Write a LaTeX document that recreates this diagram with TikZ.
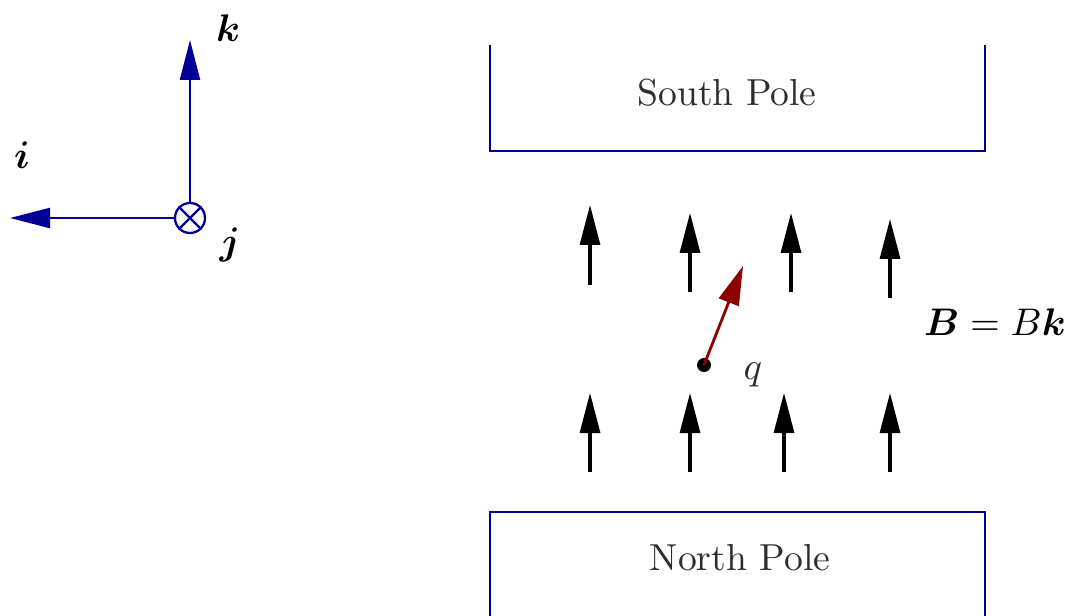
\documentclass[tikz,border=0pt]{standalone}
\usepackage{xcolor}
\usepackage{amsmath}
\usepackage{tikz}
\usetikzlibrary{arrows.meta, positioning}
\definecolor{myblue}{RGB}{0,0,153}
\definecolor{myred}{RGB}{140,0,0}
\definecolor{mydark}{RGB}{45,45,45}
\tikzset{
  axis/.style={-{Triangle[length=4mm,width=2mm]}, line width=0.65pt, color=myblue},
  field/.style={-{Triangle[length=4mm,width=2mm]}, line width=0.9pt, color=black},
  velo/.style={-{Triangle[length=3.9mm,width=2.1mm]}, line width=0.8pt, color=myred},
  pole/.style={line width=0.65pt, color=myblue},
  lbl/.style={text=mydark}
}
\begin{document}
\begin{tikzpicture}[
  font=\fontsize{10.7pt}{13pt}\selectfont,
  otimes/.style={circle, draw=myblue, line width=0.65pt, minimum size=0.3cm, inner sep=0pt},
  charge/.style={circle, fill=black, minimum size=0.14cm, inner sep=0pt}
]
\useasboundingbox (0,0) rectangle (10.72,6.15);
%--- axes (left) ---
\node[otimes] (O) at (1.90,3.97) {};
\draw[myblue, line width=0.65pt] (O.45) -- (O.225) (O.135) -- (O.315);
\coordinate (ktip) at (1.90,5.75);
\coordinate (itip) at (0.10,3.97);
\draw[axis] (O) -- (ktip);
\draw[axis] (O) -- (itip);
\node (klbl) at (2.28,5.87) {$\boldsymbol{k}$};
\node (ilbl) at (0.22,4.60) {$\boldsymbol{i}$};
\node (jlbl) at (2.30,3.70) {$\boldsymbol{j}$};

%--- magnet poles ---
\draw[pole] (4.90,5.70) -- (4.90,4.64) -- (9.85,4.64) -- (9.85,5.70);
\node[lbl] (south) at (7.27,5.22) {South Pole};
\draw[pole] (4.90,-0.05) -- (4.90,1.03) -- (9.85,1.03) -- (9.85,-0.05);
\node[lbl] (north) at (7.40,0.57) {North Pole};

% field lines
\foreach \x/\ya/\yb in {5.90/3.30/4.10, 6.90/3.23/4.02, 7.91/3.23/4.02, 8.90/3.17/3.96,
  5.90/1.43/2.22, 6.90/1.43/2.22, 7.84/1.43/2.22, 8.90/1.43/2.22}
  { \draw[field] (\x,\ya) -- (\x,\yb); }
\node (Blbl) at (9.95,2.93) {$\boldsymbol{B} = B\boldsymbol{k}$};

%--- moving charge ---
\node[charge] (q) at (7.04,2.50) {};
\coordinate (v) at (7.43,3.49);
\draw[velo] (q.center) -- (v);
\node[lbl] (qlbl) at (7.53,2.40) {$q$};
\end{tikzpicture}
\end{document}
